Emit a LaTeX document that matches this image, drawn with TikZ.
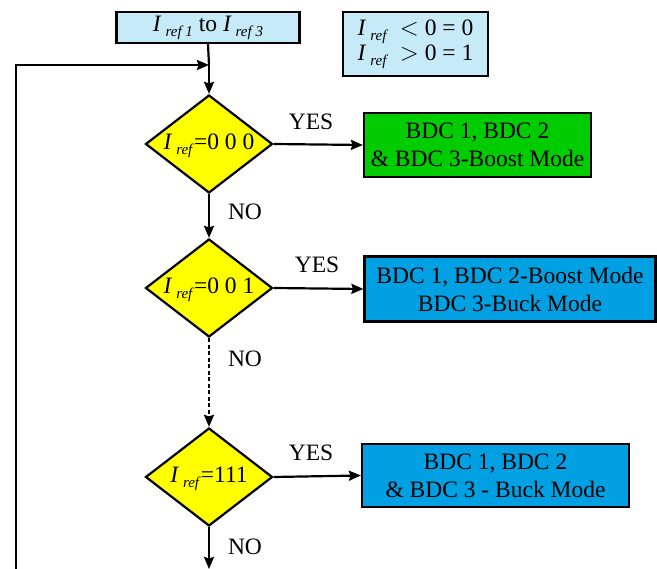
\documentclass[tikz,border=0pt]{standalone}
\usepackage{fontspec}
\setmainfont{Liberation Serif}
\usetikzlibrary{shapes.geometric,arrows.meta}
\definecolor{lightblue}{RGB}{198,234,248}
\definecolor{boxgreen}{RGB}{0,204,0}
\definecolor{boxblue}{RGB}{0,160,226}
\definecolor{diayellow}{RGB}{255,255,0}
\newcommand{\Iref}[1]{\textit{I}\,\raisebox{-0.45ex}{\fontsize{15}{15}\selectfont\textit{#1}}}
\tikzset{
  every node/.style={font=\fontsize{23.5}{28}\selectfont},
  arr/.style={line width=2.2pt,-{Stealth[length=12pt,width=10pt,inset=1.5pt]}},
  dia/.style={diamond,draw,line width=2.2pt,fill=diayellow,inner sep=0pt,minimum width=127pt,minimum height=98pt},
  modebox/.style={rectangle,draw,line width=2.2pt,align=center,inner sep=0pt},
  lbl/.style={inner sep=0pt},
}
\begin{document}
\begin{tikzpicture}[x=1pt,y=-1pt]
\useasboundingbox (0,0) rectangle (657,569);
% top boxes
\node[modebox,fill=lightblue,minimum width=183pt,minimum height=31pt] (top) at (208,27.5) {\Iref{ref 1} to \Iref{ref 3}};
\node[modebox,fill=lightblue,minimum width=145pt,minimum height=64pt,font=\fontsize{23.5}{25}\selectfont] (legend) at (415.5,44) {\Iref{ref}\enspace$<$ 0 = 0\\\Iref{ref}\enspace$>$ 0 = 1};
% diamonds
\node[dia] (d1) at (209,144) {};
\node[lbl] (t1) at (209,146) {\Iref{ref}=0 0 0};
\node[dia] (d2) at (209,288) {};
\node[lbl] (t2) at (209,290) {\Iref{ref}=0 0 1};
\node[dia] (d3) at (209,477) {};
\node[lbl] (t3) at (209,479) {\Iref{ref}=111};
% mode boxes
\node[modebox,fill=boxgreen,minimum width=227pt,minimum height=64pt] (b1) at (477.5,145) {BDC 1, BDC 2\\\& BDC 3-Boost Mode};
\node[modebox,fill=boxblue,minimum width=291pt,minimum height=65pt] (b2) at (510,289) {BDC 1, BDC 2-Boost Mode\\BDC 3-Buck Mode};
\node[modebox,fill=boxblue,minimum width=267pt,minimum height=63pt] (b3) at (495.5,475.5) {BDC 1, BDC 2\\\& BDC 3 - Buck Mode};
% labels
\node[lbl] (y1) at (311,122) {YES};
\node[lbl] (y2) at (317,265) {YES};
\node[lbl] (y3) at (311,453) {YES};
\node[lbl] (n1) at (245,212) {NO};
\node[lbl] (n2) at (245,359) {NO};
\node[lbl] (n3) at (245,547) {NO};
% coordinates
\coordinate (fbstart) at (16,569);
\coordinate (join) at (209,65);
\coordinate (bottomend) at (209,569);
% connectors
\draw[line width=2.2pt] (top.south) -- (join);
\draw[arr] (join) -- (d1.north);
\draw[arr] (fbstart) |- (join);
\draw[arr] (d1.east) -- (b1.west);
\draw[arr] (d2.east) -- (b2.west);
\draw[arr] (d3.east) -- (b3.west);
\draw[arr] (d1.south) -- (d2.north);
\draw[arr,dash pattern=on 4pt off 2.5pt] (d2.south) -- (d3.north);
\draw[arr] (d3.south) -- (bottomend);
\end{tikzpicture}
\end{document}
